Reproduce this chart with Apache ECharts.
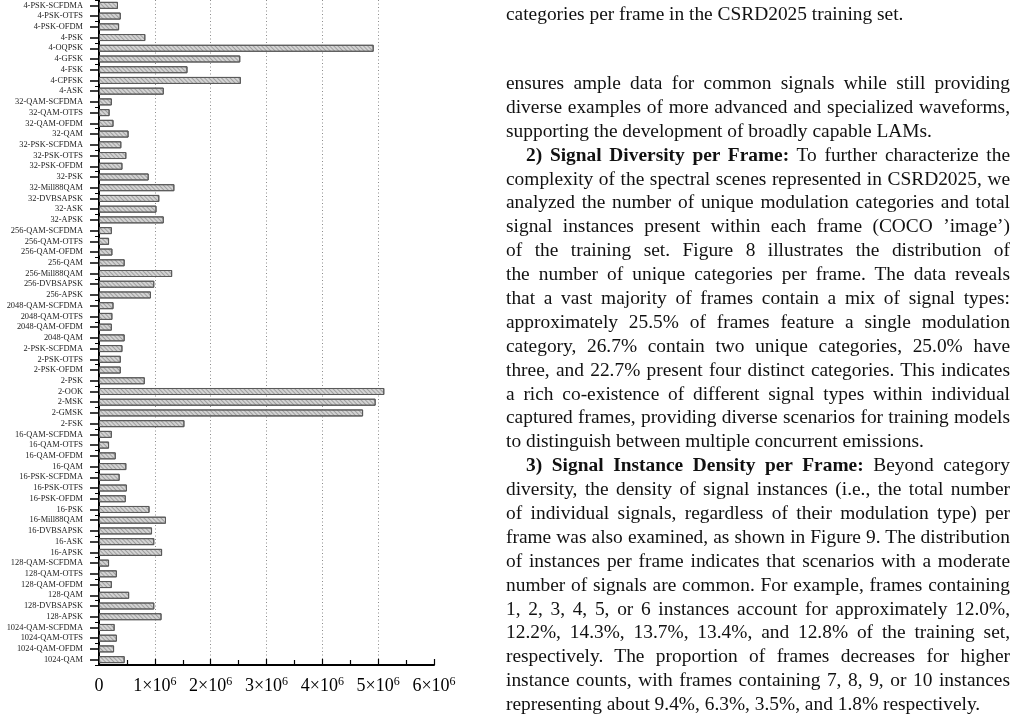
<!DOCTYPE html>
<html>
<head>
<meta charset="utf-8">
<script src="https://cdn.jsdelivr.net/npm/echarts@6/dist/echarts.min.js"></script>
<style>
  html, body { margin: 0; padding: 0; background: #fff; }
  #chart { position: absolute; left: 0; top: 0; width: 1018px; height: 717px; }
  .col { position: absolute; left: 506px; width: 504px; font-family: "Liberation Serif", serif; font-size: 19.4px; color: #111; }
  .col div { height: 23.9px; line-height: 23.9px; white-space: nowrap; text-align: justify; text-align-last: justify; }
  .col div.end { text-align: left; text-align-last: left; }
  .col div.ind { padding-left: 20px; }
</style>
</head>
<body>
<div id="chart"></div>
<div class="col" style="top:2px">
  <div class="end">categories per frame in the CSRD2025 training set.</div>
</div>
<div class="col" style="top:71px">
  <div>ensures ample data for common signals while still providing</div>
  <div>diverse examples of more advanced and specialized waveforms,</div>
  <div class="end">supporting the development of broadly capable LAMs.</div>
  <div class="ind"><b>2) Signal Diversity per Frame:</b> To further characterize the</div>
  <div>complexity of the spectral scenes represented in CSRD2025, we</div>
  <div>analyzed the number of unique modulation categories and total</div>
  <div>signal instances present within each frame (COCO ’image’)</div>
  <div>of the training set. Figure 8 illustrates the distribution of</div>
  <div>the number of unique categories per frame. The data reveals</div>
  <div>that a vast majority of frames contain a mix of signal types:</div>
  <div>approximately 25.5% of frames feature a single modulation</div>
  <div>category, 26.7% contain two unique categories, 25.0% have</div>
  <div>three, and 22.7% present four distinct categories. This indicates</div>
  <div>a rich co-existence of different signal types within individual</div>
  <div>captured frames, providing diverse scenarios for training models</div>
  <div class="end">to distinguish between multiple concurrent emissions.</div>
  <div class="ind"><b>3) Signal Instance Density per Frame:</b> Beyond category</div>
  <div>diversity, the density of signal instances (i.e., the total number</div>
  <div>of individual signals, regardless of their modulation type) per</div>
  <div>frame was also examined, as shown in Figure 9. The distribution</div>
  <div>of instances per frame indicates that scenarios with a moderate</div>
  <div>number of signals are common. For example, frames containing</div>
  <div>1, 2, 3, 4, 5, or 6 instances account for approximately 12.0%,</div>
  <div>12.2%, 14.3%, 13.7%, 13.4%, and 12.8% of the training set,</div>
  <div>respectively. The proportion of frames decreases for higher</div>
  <div>instance counts, with frames containing 7, 8, 9, or 10 instances</div>
  <div class="end">representing about 9.4%, 6.3%, 3.5%, and 1.8% respectively.</div>
</div>
<script type="text/javascript">
// modulation classes, top to bottom
var categories = [
  '4-PSK-SCFDMA', '4-PSK-OTFS', '4-PSK-OFDM', '4-PSK', '4-OQPSK', '4-GFSK', '4-FSK', '4-CPFSK', '4-ASK',
  '32-QAM-SCFDMA', '32-QAM-OTFS', '32-QAM-OFDM', '32-QAM', '32-PSK-SCFDMA', '32-PSK-OTFS', '32-PSK-OFDM',
  '32-PSK', '32-Mill88QAM', '32-DVBSAPSK', '32-ASK', '32-APSK',
  '256-QAM-SCFDMA', '256-QAM-OTFS', '256-QAM-OFDM', '256-QAM', '256-Mill88QAM', '256-DVBSAPSK', '256-APSK',
  '2048-QAM-SCFDMA', '2048-QAM-OTFS', '2048-QAM-OFDM', '2048-QAM',
  '2-PSK-SCFDMA', '2-PSK-OTFS', '2-PSK-OFDM', '2-PSK', '2-OOK', '2-MSK', '2-GMSK', '2-FSK',
  '16-QAM-SCFDMA', '16-QAM-OTFS', '16-QAM-OFDM', '16-QAM', '16-PSK-SCFDMA', '16-PSK-OTFS', '16-PSK-OFDM',
  '16-PSK', '16-Mill88QAM', '16-DVBSAPSK', '16-ASK', '16-APSK',
  '128-QAM-SCFDMA', '128-QAM-OTFS', '128-QAM-OFDM', '128-QAM', '128-DVBSAPSK', '128-APSK',
  '1024-QAM-SCFDMA', '1024-QAM-OTFS', '1024-QAM-OFDM', '1024-QAM'
];
// instance counts
var counts = [
  340000, 390000, 360000, 830000, 4920000, 2530000, 1585000, 2540000, 1160000,
  230000, 190000, 260000, 530000, 400000, 490000, 420000,
  890000, 1350000, 1080000, 1030000, 1160000,
  230000, 180000, 240000, 460000, 1310000, 990000, 930000,
  260000, 240000, 230000, 460000,
  420000, 390000, 390000, 820000, 5110000, 4955000, 4730000, 1530000,
  230000, 180000, 300000, 490000, 370000, 500000, 480000,
  905000, 1200000, 950000, 990000, 1130000,
  180000, 320000, 230000, 540000, 990000, 1120000,
  280000, 320000, 270000, 460000
];
var xTicks = [0, 1e6, 2e6, 3e6, 4e6, 5e6, 6e6];

var serif = 'Liberation Serif';
var chart = echarts.init(document.getElementById('chart'));

var option = {
    animation: false,
    grid: { left: 99, right: 584, top: 0, bottom: 52, containLabel: false },
    xAxis: {
        type: 'value',
        min: xTicks[0],
        max: xTicks[xTicks.length - 1],
        interval: 1e6,
        axisLine: { show: true, lineStyle: { color: '#000', width: 2 } },
        axisTick: { show: true, inside: true, length: 6, lineStyle: { color: '#000', width: 1.2 } },
        minorTick: { show: true, splitNumber: 2, length: 5, lineStyle: { color: '#000', width: 1.2 } },
        splitLine: { show: true, showMinLine: false, showMaxLine: false,
            lineStyle: { color: '#8c8c8c', width: 1, type: [1, 2.5] } },
        axisLabel: {
            margin: 11,
            color: '#000',
            fontFamily: serif,
            fontSize: 18,
            formatter: function (v) {
                if (v === 0) return '{b|0}';
                return '{b|' + (v / 1e6) + '×10}{s|6}';
            },
            rich: {
                b: { fontFamily: serif, fontSize: 18, lineHeight: 20, color: '#000' },
                s: { fontFamily: serif, fontSize: 12, lineHeight: 20, verticalAlign: 'top', color: '#000' }
            }
        }
    },
    yAxis: [
        {
            type: 'category',
            data: categories,
            inverse: true,
            position: 'left',
            axisLine: { show: true, lineStyle: { color: '#000', width: 2 } },
            axisTick: { show: true, alignWithLabel: true, length: 9, lineStyle: { color: '#000', width: 1.5 } },
            axisLabel: { margin: 16, interval: 0, color: '#222', fontFamily: serif, fontSize: 8.4 }
        },
        {
            type: 'category',
            data: categories,
            inverse: true,
            position: 'left',
            offset: 0,
            axisLine: { show: false },
            axisTick: { show: true, length: 4, lineStyle: { color: '#000', width: 1 } },
            axisLabel: { show: false }
        }
    ],
    series: [{
        type: 'bar',
        yAxisIndex: 0,
        data: counts,
        barWidth: 7,
        itemStyle: {
            color: '#d4d4d4',
            borderColor: '#5a5a5a',
            borderWidth: 1,
            decal: {
                symbol: 'rect',
                symbolSize: 1,
                dashArrayX: [[1, 0]],
                dashArrayY: [1, 2],
                rotation: Math.PI / 4,
                color: 'rgba(80,80,80,0.4)'
            }
        }
    }]
};
chart.setOption(option);
</script>
</body>
</html>
